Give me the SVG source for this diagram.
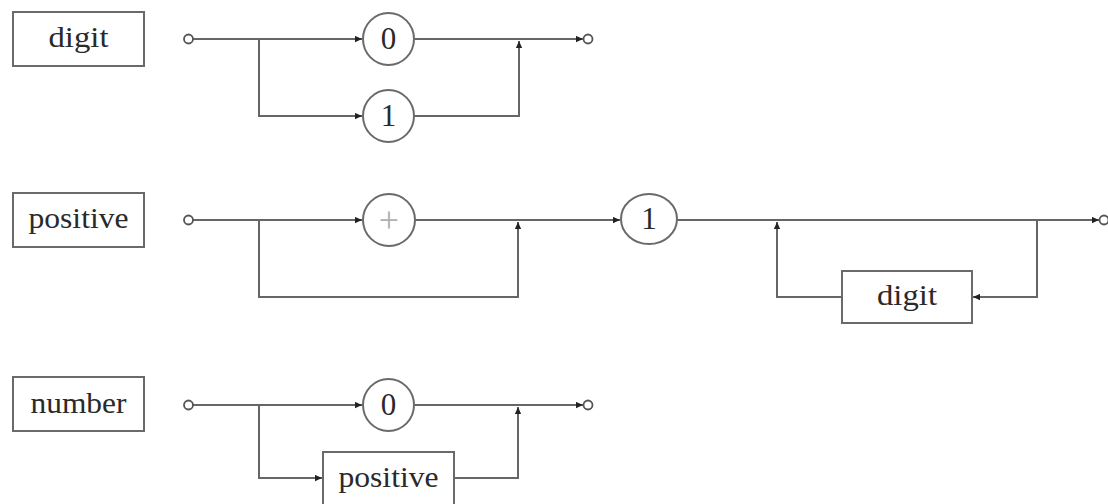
<svg xmlns="http://www.w3.org/2000/svg" width="1108" height="504" viewBox="0 0 1108 504">
  <style>
    .box { fill: #ffffff; stroke: #6a6a6a; stroke-width: 2; }
    .term { fill: #ffffff; stroke: #6a6a6a; stroke-width: 2; }
    .label { font-family: "Liberation Serif", "DejaVu Serif", serif; font-size: 30px; fill: #2a2a2a; text-anchor: middle; }
    .digit { font-family: "Liberation Serif", "DejaVu Serif", serif; font-size: 31px; fill: #2a2a2a; text-anchor: middle; }
    .plus { font-family: "Liberation Serif", "DejaVu Serif", serif; font-size: 36px; font-weight: 300; fill: #b0b0b0; text-anchor: middle; }
    .wire { fill: none; stroke: #666666; stroke-width: 2; }
    .wire.arrow { marker-end: url(#head); }
    .port { fill: #ffffff; stroke: #555555; stroke-width: 1.8; }
  </style>
  <defs>
    <marker id="head" viewBox="0 0 10 10" refX="10" refY="5" markerWidth="9" markerHeight="7" markerUnits="userSpaceOnUse" orient="auto">
      <path d="M0,0.5 L10,5 L0,9.5 Z" fill="#222222"/>
    </marker>
  </defs>
  <rect width="1108" height="504" fill="#ffffff"/>

  <!-- rule names -->
  <g id="rule-digit">
    <rect class="box" x="13" y="12" width="131" height="54"/>
    <text class="label" x="78.5" y="47" textLength="60" lengthAdjust="spacingAndGlyphs">digit</text>
  </g>
  <g id="rule-positive">
    <rect class="box" x="13" y="193" width="131" height="54"/>
    <text class="label" x="78.5" y="228" textLength="100" lengthAdjust="spacingAndGlyphs">positive</text>
  </g>
  <g id="rule-number">
    <rect class="box" x="13" y="377" width="131" height="54"/>
    <text class="label" x="78.5" y="413" textLength="96" lengthAdjust="spacingAndGlyphs">number</text>
  </g>

  <!-- connectors -->
  <g id="connectors">
    <!-- digit -->
    <path class="wire arrow" d="M193,39 H362"/>
    <path class="wire arrow" d="M259,39 V116 H362"/>
    <path class="wire arrow" d="M414,116 H519 V41"/>
    <path class="wire arrow" d="M414,39 H583"/>
    <!-- positive -->
    <path class="wire arrow" d="M193,220 H362"/>
    <path class="wire arrow" d="M259,220 V297 H518 V222"/>
    <path class="wire arrow" d="M415,220 H620"/>
    <path class="wire arrow" d="M677,220 H1099"/>
    <path class="wire arrow" d="M1037,220 V297 H973"/>
    <path class="wire arrow" d="M842,297 H777 V222"/>
    <!-- number -->
    <path class="wire arrow" d="M193,405 H362"/>
    <path class="wire arrow" d="M259,405 V478 H322"/>
    <path class="wire arrow" d="M455,478 H518 V407"/>
    <path class="wire arrow" d="M414,405 H583"/>
  </g>

  <!-- entry / exit points -->
  <g id="ports">
    <circle class="port" cx="188.5" cy="39" r="4.5"/>
    <circle class="port" cx="588" cy="39" r="4.5"/>
    <circle class="port" cx="188.5" cy="220" r="4.5"/>
    <circle class="port" cx="1104" cy="220" r="4.5"/>
    <circle class="port" cx="188.5" cy="405" r="4.5"/>
    <circle class="port" cx="588" cy="405" r="4.5"/>
  </g>

  <!-- digit alternatives -->
  <g id="digit-zero">
    <ellipse class="term" cx="388.5" cy="39" rx="25.5" ry="26"/>
    <text class="digit" x="388.5" y="49">0</text>
  </g>
  <g id="digit-one">
    <ellipse class="term" cx="388.5" cy="116" rx="25.5" ry="26"/>
    <text class="digit" x="388.5" y="126">1</text>
  </g>

  <!-- positive terms -->
  <g id="positive-plus">
    <ellipse class="term" cx="389" cy="220" rx="26" ry="26"/>
    <text class="plus" x="389" y="232">+</text>
  </g>
  <g id="positive-one">
    <ellipse class="term" cx="649" cy="219" rx="28" ry="25"/>
    <text class="digit" x="649" y="229">1</text>
  </g>
  <g id="positive-digit">
    <rect class="box" x="842" y="271" width="130" height="52"/>
    <text class="label" x="907" y="305" textLength="60" lengthAdjust="spacingAndGlyphs">digit</text>
  </g>

  <!-- number alternatives -->
  <g id="number-zero">
    <ellipse class="term" cx="388.5" cy="405" rx="25.5" ry="26"/>
    <text class="digit" x="388.5" y="415">0</text>
  </g>
  <g id="number-positive">
    <rect class="box" x="323" y="452" width="131" height="54"/>
    <text class="label" x="388.5" y="487" textLength="100" lengthAdjust="spacingAndGlyphs">positive</text>
  </g>
</svg>
